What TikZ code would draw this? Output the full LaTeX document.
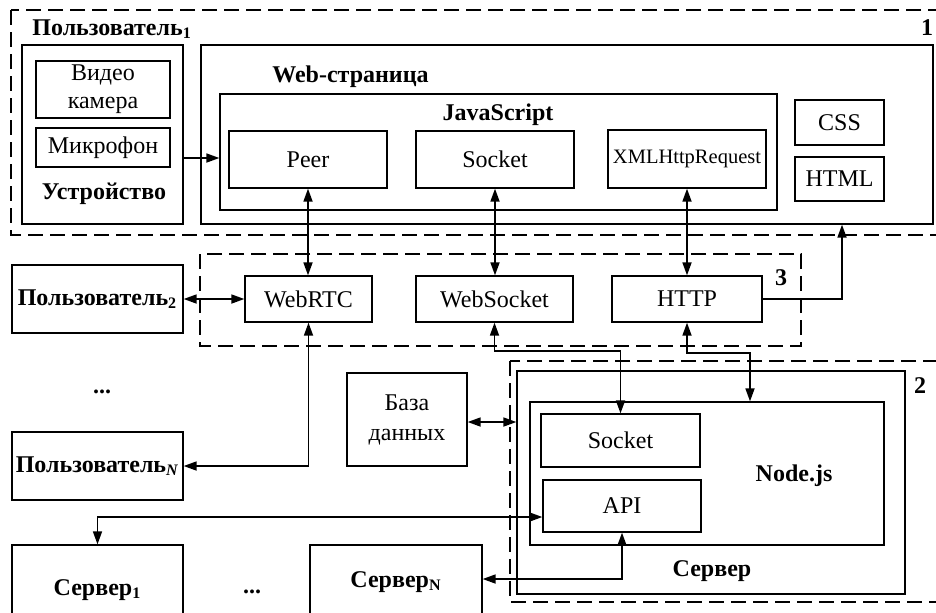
\documentclass[tikz,border=0pt]{standalone}
\usepackage{fontspec}
\setmainfont{Liberation Serif}
\usetikzlibrary{arrows.meta}

\begin{document}
\begin{tikzpicture}[x=0.5pt,y=-0.5pt,
  every node/.style={font=\fontsize{12}{14}\selectfont, inner sep=0pt},
  box/.style={draw, line width=0.65pt, align=center},
  bbox/.style={box, font=\fontsize{12}{14}\selectfont\bfseries},
  lbl/.style={font=\fontsize{12}{14}\selectfont\bfseries, anchor=base},
  region/.style={draw, dash pattern=on 7.5pt off 3.5pt, line width=0.85pt},
  link/.style={line width=0.85pt, -{Triangle[length=6.5pt,width=4.5pt]}},
  dlink/.style={line width=0.85pt, {Triangle[length=6.5pt,width=4.5pt]}-{Triangle[length=6.5pt,width=4.5pt]}},
]
\useasboundingbox (0,0) rectangle (936,612);
\clip (0,0) rectangle (936,612);

% dashed groupings
\draw[region] (11,10) rectangle (945,235);
\draw[region] (200,254) rectangle (801,346);
\draw[region] (510,361) rectangle (945,602);

% user 1: device
\node[box, minimum width=80.5pt, minimum height=89.5pt] (dev) at (102.5,134.5) {};
\node[box, minimum width=67pt, minimum height=28.5pt] (cam) at (103,89.5) {Видео\\камера};
\node[box, minimum width=67pt, minimum height=19.5pt] (mic) at (103,147.5) {Микрофон};
\node[lbl] (devlbl) at (104,199) {Устройство};
\node[lbl, anchor=base west] (u1lbl) at (32,35) {Пользователь\textsubscript{1}};
\node[lbl] (n1) at (927,35) {1};

% user 1: web page
\node[box, minimum width=366pt, minimum height=89.5pt] (web) at (567,134.5) {};
\node[lbl] (weblbl) at (350.5,82) {Web-страница};
\node[box, minimum width=278.5pt, minimum height=58pt] (js) at (498.5,152) {};
\node[lbl] (jslbl) at (498,120.5) {JavaScript};
\node[box, minimum width=79pt, minimum height=28.5pt] (peer) at (308,159.5) {Peer};
\node[box, minimum width=79pt, minimum height=28.5pt] (sock) at (495,159.5) {Socket};
\node[box, minimum width=79pt, minimum height=29pt, font=\fontsize{10.25}{12}\selectfont] (xhr) at (687,159) {XMLHttpRequest};
\node[box, minimum width=44.5pt, minimum height=22.5pt] (css) at (839.5,122.5) {CSS};
\node[box, minimum width=44.5pt, minimum height=22pt] (html) at (839.5,179) {HTML};

% protocols
\node[box, minimum width=63.5pt, minimum height=23pt] (webrtc) at (308.5,299) {WebRTC};
\node[box, minimum width=78.5pt, minimum height=23pt] (wsock) at (494.5,299) {WebSocket};
\node[box, minimum width=75pt, minimum height=23pt] (http) at (687,299) {HTTP};
\node[lbl] (n3) at (781,285) {3};

% other users
\node[bbox, minimum width=85.5pt, minimum height=34pt] (u2) at (97.5,299) {Пользователь\textsubscript{2}};
\node[lbl] (dots1) at (102,393) {...};
\node[bbox, minimum width=85.5pt, minimum height=34pt] (uN) at (97.5,466) {Пользователь\textsubscript{\textit{N}}};

% database and server
\node[box, minimum width=60pt, minimum height=46.5pt, font=\fontsize{12}{15}\selectfont] (db) at (407,419.5) {База\\данных};
\node[box, minimum width=194pt, minimum height=111.5pt] (server) at (711,482.5) {};
\node[box, minimum width=177pt, minimum height=71.5pt] (node) at (707,473.5) {};
\node[box, minimum width=79.5pt, minimum height=26.5pt] (ssock) at (620.5,440.5) {Socket};
\node[box, minimum width=79pt, minimum height=26pt] (api) at (622,506) {API};
\node[lbl] (nodelbl) at (794,481) {Node.js};
\node[lbl] (srvlbl) at (712,576) {Сервер};
\node[lbl] (n2) at (920,393) {2};

% other servers
\node[box, minimum width=85.5pt, minimum height=40pt] (s1) at (97.5,585) {};
\node[lbl] (s1lbl) at (97.5,595) {Сервер\textsubscript{1}};
\node[box, minimum width=86pt, minimum height=40pt] (sN) at (396,585) {};
\node[lbl] (sNlbl) at (396,587) {Сервер\textsubscript{N}};
\node[lbl] (dots2) at (252,593) {...};

% connections
\draw[link] (dev.east |- 0,158) -- (js.west |- 0,158);
\draw[dlink] (peer.south) -- (peer.south |- webrtc.north);
\draw[dlink] (sock.south) -- (sock.south |- wsock.north);
\draw[dlink] (xhr.south) -- (xhr.south |- http.north);
\draw[dlink] (u2.east) -- (webrtc.west);
\draw[link] (http.east) -| (web.south -| 842,0);
\draw[dlink] (webrtc.south) |- (uN.east);
\draw[dlink] (wsock.south) -- (wsock.south |- 0,351) -| (ssock.north);
\draw[dlink] (http.south) -- (http.south |- 0,353) -| (node.north -| 750,0);
\draw[dlink] (db.east |- 0,422) -- (server.west |- 0,422);
\draw[dlink] (api.west |- 0,517) -| (s1.north);
\draw[dlink] (api.south) |- (sN.east |- 0,579);
\end{tikzpicture}
\end{document}
